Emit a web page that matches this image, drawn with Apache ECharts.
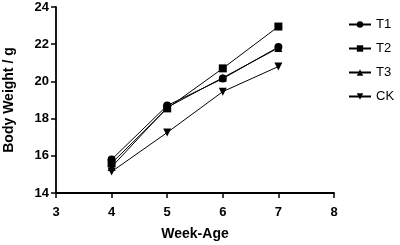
<!DOCTYPE html>
<html><head><meta charset="utf-8">
<script src="https://cdn.jsdelivr.net/npm/echarts@6/dist/echarts.min.js"></script>
<style>html,body{margin:0;padding:0;background:#fff}#c{width:400px;height:245px}</style>
</head><body><div id="c"></div>
<script>
var weeks = [4, 5, 6, 7];
var T1 = [15.8, 18.7, 20.15, 21.85];
var T2 = [15.6, 18.55, 20.7, 22.95];
var T3 = [15.4, 18.6, 20.2, 21.8];
var CK = [15.15, 17.25, 19.45, 20.8];
var xTicks = [3, 4, 5, 6, 7, 8];
var yTicks = [14, 16, 18, 20, 22, 24];

function pairs(v){ return weeks.map(function(w,i){return [w, v[i]];}); }
var font = '"Liberation Sans", Arial, sans-serif';
function mk(name, data, sym, size, rot){
  return {name:name, type:'line', data:pairs(data), symbol:sym, symbolSize:size, symbolRotate:rot||0,
    lineStyle:{color:'#000', width:1}, itemStyle:{color:'#000'}, z: 3};
}
var chart = echarts.init(document.getElementById('c'), null, {renderer:'canvas'});
chart.setOption({
  animation:false,
  grid:{left:56, right:66, top:7, bottom:52, containLabel:false, outerBoundsMode:'none'},
  legend:{orient:'vertical', left:343, top:13, itemGap:11, itemWidth:22, itemHeight:8,
    textStyle:{fontFamily:font, fontSize:13, color:'#000'},
    data:['T1','T2','T3','CK']},
  xAxis:{type:'value', min:3, max:8, interval:1,
    name:'Week-Age', nameLocation:'middle', nameGap:34,
    nameTextStyle:{fontFamily:font, fontSize:14, fontWeight:'bold', color:'#000'},
    axisLine:{onZero:false, lineStyle:{color:'#000', width:1.8}},
    axisTick:{show:true, length:5, lineStyle:{color:'#000', width:1.5}},
    axisLabel:{fontFamily:font, fontSize:13, fontWeight:'bold', color:'#000', margin:13,
      formatter:function(v){return xTicks.indexOf(v)>=0? String(v):'';}},
    splitLine:{show:false}},
  yAxis:{type:'value', min:14, max:24, interval:2,
    name:'Body Weight / g', nameLocation:'middle', nameGap:40,
    nameTextStyle:{fontFamily:font, fontSize:14, fontWeight:'bold', color:'#000'},
    axisLine:{show:true, onZero:false, lineStyle:{color:'#000', width:1.8}},
    axisTick:{show:true, length:5, lineStyle:{color:'#000', width:1.5}},
    axisLabel:{fontFamily:font, fontSize:13, fontWeight:'bold', color:'#000', margin:7,
      formatter:function(v){return yTicks.indexOf(v)>=0? String(v):'';}},
    splitLine:{show:false}},
  series:[
    mk('CK', CK, 'triangle', 8, 180),
    mk('T3', T3, 'triangle', 8),
    mk('T1', T1, 'circle', 8),
    mk('T2', T2, 'rect', 8)
  ]
});
</script></body></html>
